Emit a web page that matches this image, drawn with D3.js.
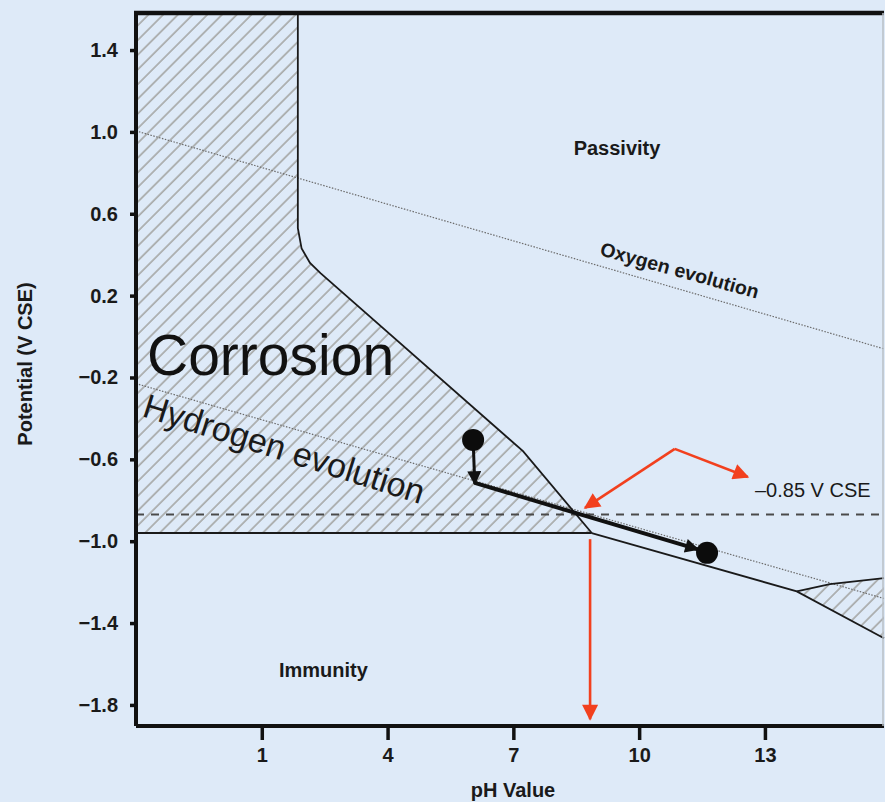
<!DOCTYPE html>
<html>
<head>
<meta charset="utf-8">
<script src="https://d3js.org/d3.v7.min.js"></script>
<style>
  body { margin: 0; background: #deeaf8; }
  svg { display: block; font-family: "Liberation Sans", Arial, sans-serif; }
</style>
</head>
<body>
<svg id="vis"></svg>
<script>
  // axis ticks
  var phTicks = [1, 4, 7, 10, 13];
  var potentialTicks = [1.4, 1.0, 0.6, 0.2, -0.2, -0.6, -1.0, -1.4, -1.8];

  // region boundaries [pH, potential]
  var corrosionArea = [[-2, 1.581], [1.86, 1.581], [1.86, 0.53], [1.95, 0.43], [2.15, 0.36], [2.4, 0.31],
                       [7.23, -0.56], [8.87, -0.96], [-2, -0.96]];
  var passiveEdge = [[1.86, 1.581], [1.86, 0.53], [1.95, 0.43], [2.15, 0.36], [2.4, 0.31], [7.23, -0.56], [8.87, -0.96]];
  var corrosionFloor = [[-2, -0.96], [8.87, -0.96]];
  var immunityEdge = [[8.87, -0.96], [13.76, -1.245], [15.84, -1.474]];
  var ferriteEdge = [[13.76, -1.245], [14.55, -1.21], [15.84, -1.18]];
  var ferriteArea = [[13.76, -1.245], [14.55, -1.21], [15.84, -1.18], [15.84, -1.474]];

  // water lines
  var hydrogenLine = [[-2, -0.23], [15.84, -1.28]];
  var oxygenLine = [[-2, 1.005], [15.84, -0.06]];
  var protectionLevel = -0.87;

  // cathodic protection path
  var processDown = [[6.04, -0.505], [6.08, -0.72]];
  var processShift = [[6.08, -0.715], [11.4, -1.04]];
  var processDots = [[6.04, -0.505], [11.62, -1.057]];

  // red annotation
  var redDown = [[8.83, -0.99], [8.83, -1.87]];
  var redLeft = [[10.85, -0.549], [8.71, -0.837]];
  var redRight = [[10.85, -0.549], [12.59, -0.686]];

  var svg = d3.select('#vis').attr('width', 885).attr('height', 802);

  var x = d3.scaleLinear().domain([-2, 15.84]).range([136, 884]);
  var y = d3.scaleLinear().domain([-1.903, 1.581]).range([726, 13]);

  var line = d3.line().x(function(d) { return x(d[0]); }).y(function(d) { return y(d[1]); });

  var defs = svg.append('defs');
  defs.append('pattern')
      .attr('id', 'hatch')
      .attr('patternUnits', 'userSpaceOnUse')
      .attr('width', 10.4).attr('height', 10.4)
      .attr('patternTransform', 'rotate(45)')
    .append('line')
      .attr('x1', 1).attr('y1', 0).attr('x2', 1).attr('y2', 10.4)
      .attr('stroke', '#9c9c98').attr('stroke-width', 1.4);

  function arrowHead(id, color, w, h) {
    defs.append('marker')
        .attr('id', id)
        .attr('viewBox', '0 0 10 10')
        .attr('refX', 9).attr('refY', 5)
        .attr('markerUnits', 'userSpaceOnUse')
        .attr('markerWidth', w).attr('markerHeight', h)
        .attr('orient', 'auto')
      .append('path')
        .attr('d', 'M0,0L10,5L0,10Z')
        .attr('fill', color);
  }
  arrowHead('redHead', '#f2401e', 17, 16);
  arrowHead('blackHead', '#111', 16, 14);

  // hatched areas
  svg.append('path').attr('d', line(corrosionArea) + 'Z').attr('fill', 'url(#hatch)');
  svg.append('path').attr('d', line(ferriteArea) + 'Z').attr('fill', 'url(#hatch)');

  // water stability lines
  [hydrogenLine, oxygenLine].forEach(function(d) {
    svg.append('path').attr('d', line(d))
        .attr('fill', 'none').attr('stroke', '#6c6c6c')
        .attr('stroke-width', 1.2).attr('stroke-dasharray', '1.5,1.5');
  });

  // -0.85 V dashed level
  svg.append('line')
      .attr('x1', x(-2)).attr('x2', x(15.84))
      .attr('y1', y(protectionLevel)).attr('y2', y(protectionLevel))
      .attr('stroke', '#4a4a4a').attr('stroke-width', 2)
      .attr('stroke-dasharray', '8,7');

  // boundaries
  [passiveEdge, corrosionFloor, immunityEdge, ferriteEdge].forEach(function(d) {
    svg.append('path').attr('d', line(d))
        .attr('fill', 'none').attr('stroke', '#1a1a1a').attr('stroke-width', 1.8);
  });

  // axes
  var yAxis = svg.append('g').attr('transform', 'translate(136,0)')
      .call(d3.axisLeft(y).tickValues(potentialTicks).tickSize(6).tickPadding(12)
        .tickFormat(function(d) { return d3.format('.1f')(d).replace('-', '\u2013'); }));
  var xAxis = svg.append('g').attr('transform', 'translate(0,726)')
      .call(d3.axisBottom(x).tickValues(phTicks).tickSize(14).tickPadding(8));

  [xAxis, yAxis].forEach(function(g) {
    g.select('.domain').attr('stroke', '#111').attr('stroke-width', 4);
    g.selectAll('.tick line').attr('stroke', '#111').attr('stroke-width', 3.5);
    g.selectAll('.tick text').attr('fill', '#1a1a1a')
        .style('font-size', '20px').style('font-weight', 'bold')
        .style('font-family', '"Liberation Sans", Arial, sans-serif');
  });
  yAxis.select('.domain').attr('d', 'M0,' + y(1.581) + 'V' + y(-1.903));
  xAxis.select('.domain').attr('d', 'M' + x(-2) + ',0H' + x(15.84));

  // top and right frame
  svg.append('line').attr('x1', 134).attr('x2', 884).attr('y1', 13).attr('y2', 13)
      .attr('stroke', '#111').attr('stroke-width', 4.5);
  svg.append('line').attr('x1', 883).attr('x2', 883).attr('y1', 13).attr('y2', 726)
      .attr('stroke', '#b9bfc6').attr('stroke-width', 1.5);

  // process arrows
  svg.append('path').attr('d', line(processDown))
      .attr('stroke', '#111').attr('stroke-width', 3).attr('fill', 'none')
      .attr('marker-end', 'url(#blackHead)');
  svg.append('path').attr('d', line(processShift))
      .attr('stroke', '#111').attr('stroke-width', 4).attr('fill', 'none')
      .attr('marker-end', 'url(#blackHead)');
  svg.selectAll('circle.dot').data(processDots).enter().append('circle')
      .attr('class', 'dot')
      .attr('cx', function(d) { return x(d[0]); })
      .attr('cy', function(d) { return y(d[1]); })
      .attr('r', 11).attr('fill', '#0c0c0c');

  // red annotation
  [redDown, redLeft, redRight].forEach(function(d) {
    svg.append('path').attr('d', line(d))
        .attr('stroke', '#f2401e').attr('stroke-width', 2.6).attr('fill', 'none')
        .attr('marker-end', 'url(#redHead)');
  });

  // labels
  svg.append('text').attr('x', 617).attr('y', 155).attr('text-anchor', 'middle')
      .style('font-size', '20px').style('font-weight', 'bold').attr('fill', '#1a1a1a')
      .text('Passivity');
  svg.append('text').attr('x', 279).attr('y', 677)
      .style('font-size', '20px').style('font-weight', 'bold').attr('fill', '#1a1a1a')
      .text('Immunity');
  svg.append('text').attr('x', 147).attr('y', 375)
      .style('font-size', '57px').attr('fill', '#111')
      .text('Corrosion');
  svg.append('text').attr('transform', 'translate(141,416) rotate(17.5)')
      .style('font-size', '34px').attr('fill', '#1a1a1a')
      .text('Hydrogen evolution');
  svg.append('text').attr('transform', 'translate(599,255) rotate(15.5)')
      .style('font-size', '19.5px').style('font-weight', 'bold').attr('fill', '#1a1a1a')
      .text('Oxygen evolution');
  svg.append('text').attr('x', 755).attr('y', 497)
      .style('font-size', '20px').attr('fill', '#1a1a1a')
      .text('\u20130.85 V CSE');

  svg.append('text').attr('x', 513).attr('y', 797).attr('text-anchor', 'middle')
      .style('font-size', '20px').style('font-weight', 'bold').attr('fill', '#1a1a1a')
      .text('pH Value');
  svg.append('text').attr('transform', 'translate(32,364) rotate(-90)').attr('text-anchor', 'middle')
      .style('font-size', '20px').style('font-weight', 'bold').attr('fill', '#1a1a1a')
      .text('Potential (V CSE)');
</script>
</body>
</html>
